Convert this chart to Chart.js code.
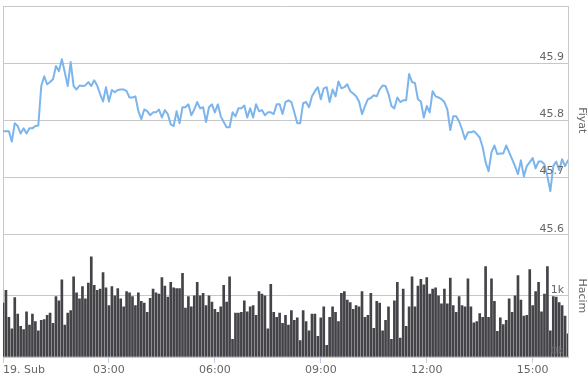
<!DOCTYPE html>
<html>
<head>
<meta charset="utf-8">
<script src="https://cdn.jsdelivr.net/npm/chart.js@4"></script>
<style>
  html, body { margin: 0; padding: 0; background: #ffffff; }
  #c { display: block; }
</style>
</head>
<body>
<canvas id="c" width="588" height="376"></canvas>
<script>
// 5-minute intervals from 00:00 to 16:00 (index 0..192)
const tickHours = [0, 3, 6, 9, 12, 15];
const xTickLabels = ['19. Sub', '03:00', '06:00', '09:00', '12:00', '15:00'];
const endHour = 16;
const stepsPerHour = 12;

const priceTicks = [45.6, 45.7, 45.8, 45.9, 46.0];
const volumeTicks = [0, 1000, 2000];

const priceValues = [
  45.781,45.781,45.781,45.763,45.795,45.790,45.777,45.786,45.777,45.786,
  45.786,45.790,45.791,45.860,45.877,45.863,45.867,45.872,45.895,45.886,
  45.907,45.884,45.860,45.902,45.860,45.854,45.861,45.860,45.861,45.867,
  45.860,45.870,45.861,45.846,45.833,45.858,45.833,45.853,45.849,45.853,
  45.854,45.854,45.851,45.840,45.840,45.842,45.816,45.802,45.819,45.816,
  45.809,45.814,45.814,45.819,45.805,45.818,45.811,45.793,45.790,45.816,
  45.795,45.823,45.823,45.828,45.809,45.819,45.832,45.821,45.823,45.797,
  45.823,45.828,45.814,45.828,45.807,45.797,45.788,45.788,45.814,45.807,
  45.821,45.821,45.826,45.805,45.821,45.805,45.828,45.816,45.818,45.809,
  45.814,45.814,45.811,45.828,45.828,45.811,45.832,45.835,45.832,45.814,
  45.795,45.795,45.830,45.832,45.823,45.842,45.851,45.858,45.837,45.856,
  45.858,45.832,45.854,45.842,45.868,45.856,45.858,45.863,45.851,45.847,
  45.842,45.833,45.811,45.825,45.837,45.839,45.844,45.842,45.854,45.861,
  45.860,45.846,45.825,45.821,45.840,45.832,45.835,45.835,45.881,45.867,
  45.865,45.837,45.833,45.805,45.825,45.814,45.851,45.842,45.840,45.837,
  45.832,45.819,45.783,45.807,45.807,45.798,45.784,45.767,45.779,45.779,
  45.781,45.776,45.770,45.753,45.727,45.711,45.744,45.756,45.741,45.742,
  45.742,45.756,45.744,45.732,45.720,45.706,45.730,45.702,45.720,45.727,
  45.734,45.716,45.728,45.728,45.723,45.702,45.676,45.720,45.728,45.713,
  45.732,45.720,45.730
];

const volumeValues = [
  880,1090,650,460,970,700,500,450,740,520,
  700,580,430,600,610,680,720,550,990,920,
  1260,520,720,760,1310,1050,950,1150,950,1210,
  1640,1170,1090,1110,1380,1130,840,1150,1000,1120,
  950,820,1070,1050,990,840,1050,910,880,730,
  960,1110,1050,1030,1300,1160,980,1220,1130,1120,
  1120,1370,800,990,820,1000,1220,1000,1040,840,
  1000,900,780,730,820,1170,900,1310,290,720,
  720,730,920,740,820,840,680,1070,1030,1000,
  460,1190,730,650,720,550,680,520,760,600,
  640,270,760,580,430,700,700,340,640,820,
  190,650,820,730,580,1040,1070,930,890,780,
  840,820,1070,650,680,1040,470,910,880,430,
  600,820,290,920,1220,310,1110,500,820,1310,
  820,1160,1270,1180,1300,1030,1110,1130,1000,870,
  1110,870,1290,840,730,990,840,820,1280,820,
  560,580,710,650,1480,650,1280,910,420,640,
  530,600,950,730,1000,1330,930,670,680,1430,
  840,1070,1220,740,1030,1480,430,990,980,890,
  840,670,380
];

const xMax = endHour * stepsPerHour;
const xTickValues = tickHours.map(h => h * stepsPerHour).concat([xMax]);

const labelFont = { family: 'DejaVu Sans', size: 11, lineHeight: 0.45 };
const titleFont = { family: 'DejaVu Sans', size: 11, lineHeight: 1 };
const textColor = '#666666';
const gridColor = '#c8c8c8';

function yTitle(text) {
  return { display: true, text: text, color: textColor, font: titleFont, padding: { top: 1, bottom: 16 } };
}

new Chart(document.getElementById('c'), {
  data: {
    datasets: [
      {
        type: 'line',
        data: priceValues.map((v, i) => ({ x: i, y: v })),
        yAxisID: 'yPrice',
        borderColor: '#7cb5ec',
        borderWidth: 2,
        pointRadius: 0,
        tension: 0,
        borderJoinStyle: 'round',
        borderCapStyle: 'round'
      },
      {
        type: 'bar',
        data: volumeValues.map((v, i) => ({ x: i, y: v })),
        yAxisID: 'yVol',
        backgroundColor: '#434348',
        borderWidth: 0,
        barThickness: 2
      }
    ]
  },
  options: {
    responsive: false,
    animation: false,
    events: [],
    layout: { padding: { left: 3, top: 6, right: 0, bottom: -2 } },
    plugins: { legend: { display: false }, tooltip: { enabled: false } },
    scales: {
      x: {
        type: 'linear',
        min: 0,
        max: xMax,
        offset: false,
        afterBuildTicks: (scale) => { scale.ticks = xTickValues.map(v => ({ value: v })); },
        border: { display: false },
        grid: {
          offset: false,
          drawOnChartArea: true,
          drawTicks: true,
          tickLength: 6,
          color: (c) => (c.tick && (c.tick.value === 0 || c.tick.value === xMax)) ? gridColor : 'rgba(0,0,0,0)',
          tickColor: (c) => (c.tick && c.tick.value === xMax) ? 'rgba(0,0,0,0)' : '#c0d0e0'
        },
        ticks: {
          align: 'inner',
          autoSkip: false,
          maxRotation: 0,
          padding: 2,
          color: textColor,
          font: { family: 'DejaVu Sans', size: 11, lineHeight: 1 },
          callback: (v, i) => xTickLabels[i] !== undefined ? xTickLabels[i] : ''
        }
      },
      yPrice: {
        type: 'linear',
        position: 'right',
        stack: 'panels',
        stackWeight: 1.87,
        min: priceTicks[0],
        max: priceTicks[priceTicks.length - 1],
        afterBuildTicks: (scale) => { scale.ticks = priceTicks.map(v => ({ value: v })); },
        border: { display: true, color: gridColor },
        grid: { color: gridColor, drawTicks: false },
        ticks: {
          mirror: true,
          z: 1,
          padding: -4,
          labelOffset: -6,
          color: textColor,
          font: labelFont,
          callback: (v) => v === priceTicks[priceTicks.length - 1] ? '' : Number(v).toFixed(1)
        },
        title: yTitle('Fiyat')
      },
      yVol: {
        type: 'linear',
        position: 'right',
        stack: 'panels',
        stackWeight: 1,
        min: volumeTicks[0],
        max: volumeTicks[volumeTicks.length - 1],
        afterBuildTicks: (scale) => { scale.ticks = volumeTicks.map(v => ({ value: v })); },
        border: { display: true, color: gridColor },
        grid: { color: gridColor, drawTicks: false },
        ticks: {
          mirror: true,
          z: 1,
          padding: -4,
          labelOffset: -6,
          color: textColor,
          font: labelFont,
          callback: (v) => v === volumeTicks[volumeTicks.length - 1] ? '' : (v / 1000) + 'k'
        },
        title: yTitle('Hacim')
      }
    }
  }
});
</script>
</body>
</html>
